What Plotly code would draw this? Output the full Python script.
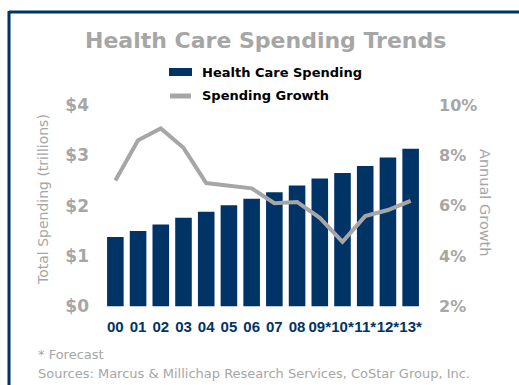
import plotly.graph_objects as go

years = ["00", "01", "02", "03", "04", "05", "06", "07", "08", "09*", "10*", "11*", "12*", "13*"]
spending = [1.38, 1.50, 1.63, 1.76, 1.88, 2.01, 2.14, 2.27, 2.40, 2.54, 2.65, 2.79, 2.96, 3.13]
growth = [7.0, 8.6, 9.07, 8.3, 6.9, 6.78, 6.69, 6.1, 6.15, 5.52, 4.57, 5.59, 5.83, 6.19]

NAVY = "#003366"
GRAY = "#A6A6A6"
W, H = 519, 385

def px(x):
    return x / W

def py(y):
    return 1 - y / H

fig = go.Figure()
fig.add_trace(go.Bar(x=years, y=spending, marker=dict(color=NAVY, line=dict(width=0)),
                     name="Health Care Spending", showlegend=False))
fig.add_trace(go.Scatter(x=years, y=growth, mode="lines", line=dict(color=GRAY, width=4),
                         name="Spending Growth", yaxis="y2", showlegend=False))

fig.update_layout(
    template="none",
    width=W, height=H,
    margin=dict(l=0, r=0, t=0, b=0, pad=0),
    paper_bgcolor="white", plot_bgcolor="white",
    bargap=0.27,
    xaxis=dict(domain=[px(104), px(422)], range=[-0.5, 13.5], type="category",
               automargin=False, tickangle=0,
               showgrid=False, showline=False, zeroline=False, ticks="",
               tickfont=dict(family="Liberation Sans", size=15, color=NAVY, weight="bold"),
               ticklabelstandoff=9),
    yaxis=dict(domain=[py(306.5), py(105)], range=[0, 4], dtick=1, tickprefix="$",
               automargin=False,
               showgrid=False, showline=False, zeroline=False, ticks="",
               tickfont=dict(family="DejaVu Sans", size=17, color=GRAY, weight="bold"),
               ticklabelstandoff=14),
    yaxis2=dict(overlaying="y", side="right", range=[2, 10], dtick=2, ticksuffix="%",
                automargin=False,
                showgrid=False, showline=False, zeroline=False, ticks="",
                tickfont=dict(family="DejaVu Sans", size=16, color=GRAY, weight="bold"),
                ticklabelstandoff=16),
    font=dict(family="DejaVu Sans"),
)

anns = [
    dict(text="<b>Health Care Spending Trends</b>", x=px(265), y=py(40),
         font=dict(size=22, color=GRAY)),
    dict(text="<b>Health Care Spending</b>", x=px(200), y=py(72), xanchor="left",
         font=dict(size=13, color="black")),
    dict(text="<b>Spending Growth</b>", x=px(200), y=py(96), xanchor="left",
         font=dict(size=13, color="black")),
    dict(text="Total Spending (trillions)", x=px(43), y=py(200), textangle=-90,
         font=dict(size=14, color=GRAY)),
    dict(text="Annual Growth", x=px(485), y=py(203), textangle=90,
         font=dict(size=14.5, color=GRAY)),
    dict(text="* Forecast", x=px(36), y=py(354), xanchor="left",
         font=dict(size=13, color=GRAY)),
    dict(text="Sources: Marcus &amp; Millichap Research Services, CoStar Group, Inc.",
         x=px(36), y=py(373), xanchor="left", font=dict(size=13, color=GRAY)),
]
for a in anns:
    a.update(xref="paper", yref="paper", showarrow=False)
    a.setdefault("xanchor", "center")
    a.setdefault("yanchor", "middle")
fig.update_layout(annotations=anns)

shapes = [
    dict(type="line", x0=px(9), x1=1, y0=py(12), y1=py(12), line=dict(color=NAVY, width=3)),
    dict(type="line", x0=px(9), x1=px(9), y0=py(11), y1=0, line=dict(color=NAVY, width=3)),
    dict(type="rect", x0=px(169), x1=px(192), y0=py(76), y1=py(68), fillcolor=NAVY,
         line=dict(width=0)),
    dict(type="line", x0=px(170), x1=px(191), y0=py(96), y1=py(96),
         line=dict(color=GRAY, width=5)),
]
for s in shapes:
    s.update(xref="paper", yref="paper")
fig.update_layout(shapes=shapes)

fig.write_html("out.html")
